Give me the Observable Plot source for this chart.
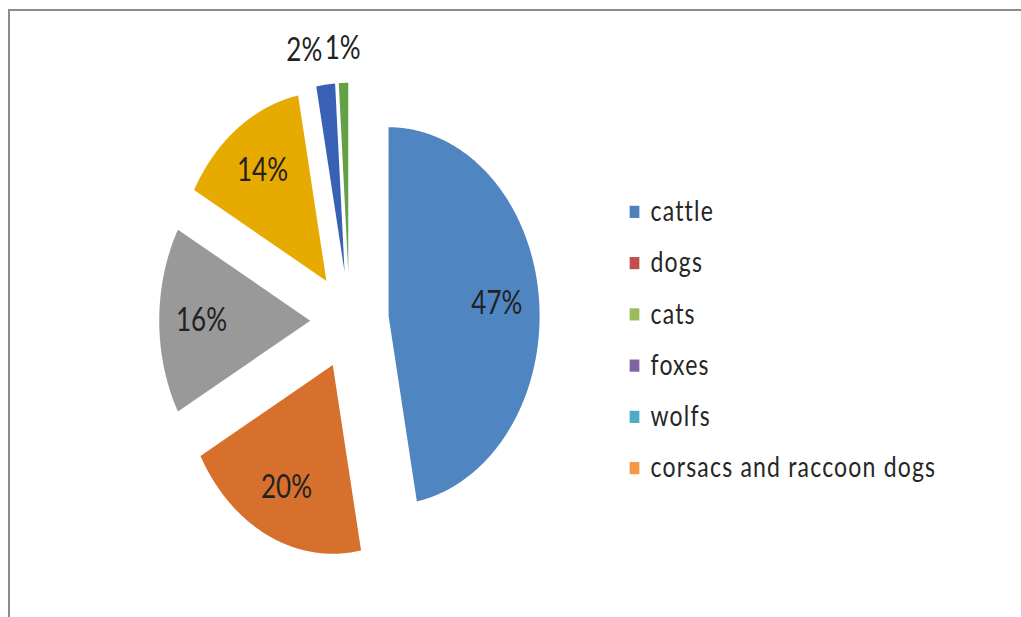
<!DOCTYPE html>
<html>
<head>
<meta charset="utf-8">
<script src="https://cdn.jsdelivr.net/npm/d3@7"></script>
<script src="https://cdn.jsdelivr.net/npm/@observablehq/plot@0.6"></script>
<style>
  html, body { margin: 0; padding: 0; background: #fff; }
  #frame { position: relative; width: 1021px; height: 617px; overflow: hidden; background: #fff; }
  #border { position: absolute; left: 8px; top: 9px; right: -4px; bottom: -4px;
            border-top: 2px solid #8c8c8c; border-left: 2px solid #8c8c8c; }
  #stage { position: absolute; left: 0; top: 0; width: 1021px; height: 494px;
           transform: scaleY(1.25); transform-origin: 0 0; }
  #stage svg { position: absolute; top: 0; }
  #stage svg.legend-plot text { letter-spacing: 1.2px; }
</style>
</head>
<body>
<div id="frame"><div id="border"></div><div id="stage"></div></div>
<script>
// ---- data ----
const sliceLabels = ["47%", "20%", "16%", "14%", "2%", "1%"];
const sliceValues = [47, 20, 16, 14, 2, 1];
const sliceColors = ["#4F86C1", "#D7702C", "#999999", "#E6AA00", "#3860B4", "#64A046"];
const legendNames = ["cattle", "dogs", "cats", "foxes", "wolfs", "corsacs and raccoon dogs"];
const legendColors = ["#4F81BD", "#C0504D", "#9BBB59", "#8064A2", "#4BACC6", "#F79646"];

// ---- layout ----
const CX = 349, CY = 256, R = 151, EXPLODE = 0.26;

const arcs = d3.pie().sort(null).value(d => d.value)(
  sliceLabels.map((label, i) => ({label, value: sliceValues[i]}))
);

const pts = [];
const labelPts = [];
arcs.forEach(a => {
  const m = (a.startAngle + a.endAngle) / 2;
  const ox = EXPLODE * Math.sin(m), oy = EXPLODE * Math.cos(m);
  pts.push({label: a.data.label, x: ox, y: oy});
  const n = Math.max(2, Math.ceil((a.endAngle - a.startAngle) / (Math.PI / 360)));
  for (let k = 0; k <= n; k++) {
    const t = a.startAngle + (a.endAngle - a.startAngle) * k / n;
    pts.push({label: a.data.label, x: ox + Math.sin(t), y: oy + Math.cos(t)});
  }
  const outside = a.data.value < 5;
  const r = outside ? EXPLODE + 1.18 : EXPLODE + 0.72;
  labelPts.push({
    label: a.data.label,
    x: r * Math.sin(m),
    y: r * Math.cos(m),
    anchor: outside && Math.sin(m) < -0.1 ? "end" : "middle"
  });
});

const textStyle = {fontFamily: "Lato, 'Open Sans', sans-serif", fontSize: 26, fill: "#222"};

const pie = Plot.plot({
  width: 1021, height: 494, margin: 0,
  x: {domain: [-1, 1], range: [CX - R, CX + R], axis: null},
  y: {domain: [-1, 1], range: [CY + R, CY - R], axis: null},
  color: {domain: sliceLabels, range: sliceColors},
  style: {background: "transparent", overflow: "visible"},
  marks: [
    Plot.line(pts, {x: "x", y: "y", z: "label", fill: "label", stroke: "none", curve: "linear-closed"}),
    Plot.text(labelPts.filter(d => d.anchor === "middle"), {x: "x", y: "y", text: "label", textAnchor: "middle", ...textStyle}),
    Plot.text(labelPts.filter(d => d.anchor === "end"), {x: "x", y: "y", text: "label", textAnchor: "end", ...textStyle})
  ]
});
pie.style.left = "0px";

const legend = Plot.plot({
  width: 421, height: 494, margin: 0,
  className: "legend-plot",
  x: {domain: [0, 1], axis: null},
  y: {type: "point", domain: legendNames, range: [169, 374], padding: 0, axis: null},
  color: {domain: legendNames, range: legendColors},
  style: {background: "transparent", overflow: "visible"},
  marks: [
    Plot.dot(legendNames, {y: d => d, fill: d => d, symbol: "square", r: 5.5, frameAnchor: "left", dx: 34}),
    Plot.text(legendNames, {y: d => d, text: d => d, frameAnchor: "left", dx: 50, textAnchor: "start",
      fontFamily: "Lato, 'Open Sans', sans-serif", fontSize: 23, fill: "#262626"})
  ]
});
legend.classList.add("legend-plot");
legend.style.left = "600px";

const stage = document.getElementById("stage");
stage.appendChild(pie);
stage.appendChild(legend);
</script>
</body>
</html>
